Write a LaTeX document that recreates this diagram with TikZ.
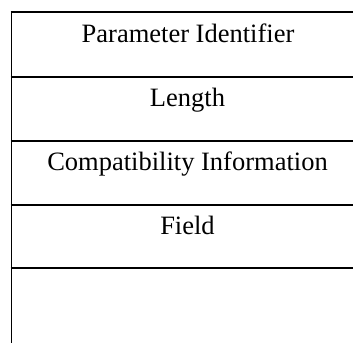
\documentclass[tikz,border=0pt]{standalone}
\usepackage{fontspec}
\setmainfont{Liberation Serif}
\begin{document}
\begin{tikzpicture}[x=1pt,y=-1pt,
  rule/.style={line width=1.8pt,black},
  label/.style={anchor=base,inner sep=0pt,font=\fontsize{26.5}{30}\selectfont}]
\useasboundingbox (0,0) rectangle (353,343);
% left border
\draw[rule] (11.5,12.3) -- (11.5,343);
% horizontal separators
\foreach \y in {12.3,76.7,140.7,205,268.3}
  \draw[rule] (10.6,\y) -- (353,\y);
% field labels
\node[label] (pid) at (188,42.3) {Parameter Identifier};
\node[label] (len) at (187.5,106) {Length};
\node[label] (cmp) at (187.5,170) {Compatibility Information};
\node[label] (fld) at (187.5,234) {Field};
\end{tikzpicture}
\end{document}
